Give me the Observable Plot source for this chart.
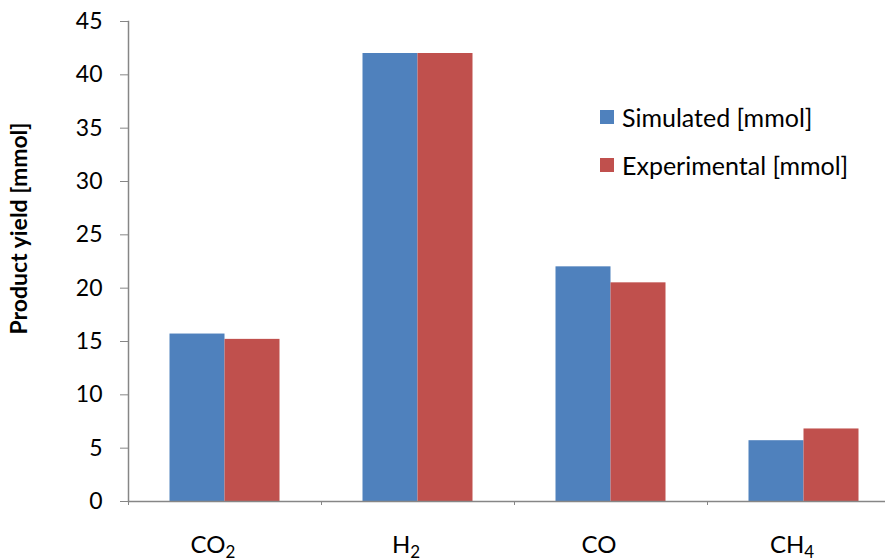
<!DOCTYPE html>
<html>
<head>
<meta charset="utf-8">
<script src="https://cdn.jsdelivr.net/npm/d3@7"></script>
<script src="https://cdn.jsdelivr.net/npm/@observablehq/plot@0.6"></script>
<style>
  html, body { margin: 0; padding: 0; background: #fff; }
  #wrap { position: relative; width: 885px; height: 560px; overflow: hidden; font-family: Lato, "Open Sans", sans-serif; }
  #legend { position: absolute; left: 600px; top: 0; font-size: 25px; color: #000; }
  #legend .row { position: absolute; left: 0; height: 30px; display: flex; align-items: center; white-space: nowrap; }
  #legend .sw { display: inline-block; width: 14px; height: 14px; margin-right: 8px; flex: none; }
</style>
</head>
<body>
<div id="wrap"><div id="chart"></div><div id="legend"></div></div>
<script>
const categories = ["CO2", "H2", "CO", "CH4"];
const series = ["Simulated [mmol]", "Experimental [mmol]"];
const simulated = [15.7, 42.0, 22.0, 5.7];
const experimental = [15.2, 42.0, 20.5, 6.8];
const yTicks = [0, 5, 10, 15, 20, 25, 30, 35, 40, 45];
const colors = ["#4F81BD", "#C0504D"];
const yTitle = "Product yield [mmol]";

const rows = [];
categories.forEach((c, i) => {
  rows.push({category: c, series: series[0], value: simulated[i]});
  rows.push({category: c, series: series[1], value: experimental[i]});
});

const band = 193;          // pixel width of each category band
const barW = 55;           // width of one bar
const outer = (band - 2 * barW) / 2;
const left = 128;
const axisColor = "#868686";

const chart = Plot.plot({
  width: 885,
  height: 560,
  marginLeft: left,
  marginRight: 0,
  marginTop: 21,
  marginBottom: 59,
  style: {fontFamily: "Lato, 'Open Sans', sans-serif", background: "#fff", overflow: "hidden"},
  x: {domain: categories, range: [left, left + band * categories.length], padding: 0},
  y: {domain: [0, 45]},
  color: {domain: series, range: colors},
  marks: [
    Plot.barY(rows.filter(d => d.series === series[0]), {
      x: "category", y: "value", fill: "series",
      insetLeft: outer, insetRight: outer + barW
    }),
    Plot.barY(rows.filter(d => d.series === series[1]), {
      x: "category", y: "value", fill: "series",
      insetLeft: outer + barW, insetRight: outer
    }),
    Plot.axisY({ticks: yTicks, tickSize: 8, tickPadding: 18, fontSize: 23, stroke: axisColor, color: "#000", label: null}),
    Plot.frame({anchor: "left", stroke: axisColor, strokeWidth: 1.5}),
    Plot.ruleY([0], {stroke: axisColor, strokeWidth: 1.5}),
    Plot.axisX({tickSize: 4, dx: -band / 2, text: null, stroke: axisColor, label: null}),
    Plot.axisX({tickSize: 0, tickPadding: 34, dx: -12, fontSize: 24, color: "#000", label: null}),
    Plot.text([yTitle], {
      frameAnchor: "left", text: d => d, rotate: -90, textAnchor: "middle",
      dx: -109, dy: -33, fontSize: 23, fontWeight: "bold", fill: "#000"
    })
  ]
});

// subscripts in chemical formulas
d3.select(chart).selectAll('g[aria-label="x-axis tick label"] text').each(function() {
  const t = d3.select(this);
  const s = t.text();
  t.text("");
  const m = s.match(/^([A-Za-z]+)(\d*)$/);
  t.append("tspan").text(m ? m[1] : s);
  if (m && m[2]) t.append("tspan").attr("dy", "0.32em").attr("font-size", "17px").text(m[2]);
});

document.getElementById("chart").appendChild(chart);

const lg = d3.select("#legend");
const legendTops = [102, 150];
series.forEach((s, i) => {
  const row = lg.append("div").attr("class", "row").style("top", legendTops[i] + "px");
  row.append("span").attr("class", "sw").style("background", colors[i]);
  row.append("span").text(s);
});
</script>
</body>
</html>
